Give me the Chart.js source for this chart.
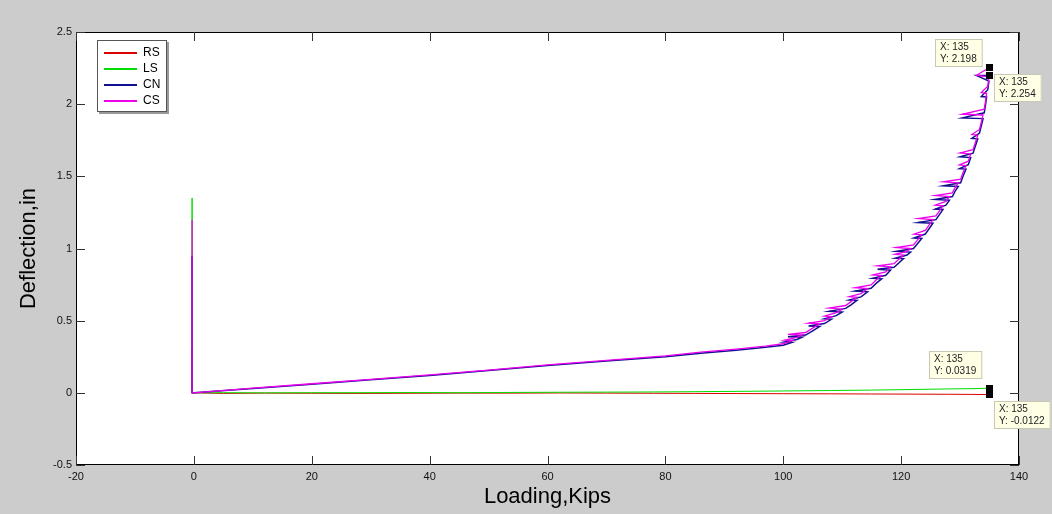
<!DOCTYPE html>
<html lang="en">
<head>
    <meta charset="UTF-8">
    <title>Deflection vs Loading</title>
    <script src="https://cdn.jsdelivr.net/npm/chart.js"></script>
    <style>
        html, body { margin: 0; padding: 0; background: #cccccc; }
        canvas { display: block; }
    </style>
</head>
<body>
    <canvas id="deflectionChart" width="1052" height="514"></canvas>

    <script>
        // load (kips) for centre gauges CN / CS
        const mainLoad = [-0.3, -0.3, -0.3, 0, 10, 20, 30, 40, 50, 60,
            70, 80, 86, 92, 97, 100, 101.5, 100.2, 102.3, 103.2,
            100.8, 103.8, 105, 106.2, 104.3, 107, 108.2, 107, 109, 110,
            107.8, 110.6, 111.5, 112.5, 111.2, 113.2, 114.3, 112.2, 114.9, 115.8,
            116.7, 115.2, 117.4, 118.2, 116, 118.8, 119.6, 120.4, 119, 121,
            121.6, 119.2, 122.1, 122.8, 123.5, 122.2, 124.1, 124.8, 125.4, 122.9,
            125.9, 126.5, 127.1, 125.8, 127.6, 128.2, 125.8, 128.7, 129.2, 129.7,
            127.2, 130.1, 130.5, 131, 129.9, 131.4, 131.8, 130, 132.2, 132.6,
            133, 132, 133.3, 133.6, 133.9, 130.4, 134.1, 134.3, 134.5, 133.6,
            134.7, 134.9, 132.8, 135];
        const cnDefl = [0, 0.95, 0, 0, 0.03, 0.06, 0.09, 0.12, 0.155, 0.19,
            0.22, 0.25, 0.275, 0.295, 0.315, 0.33, 0.35, 0.352, 0.37, 0.385,
            0.388, 0.4, 0.43, 0.46, 0.463, 0.48, 0.51, 0.513, 0.535, 0.56,
            0.565, 0.585, 0.61, 0.64, 0.643, 0.665, 0.7, 0.705, 0.725, 0.76,
            0.79, 0.793, 0.815, 0.85, 0.856, 0.87, 0.9, 0.93, 0.933, 0.955,
            0.975, 0.98, 1.0, 1.035, 1.07, 1.073, 1.1, 1.14, 1.175, 1.18,
            1.2, 1.235, 1.27, 1.273, 1.3, 1.335, 1.34, 1.36, 1.4, 1.43,
            1.435, 1.455, 1.5, 1.55, 1.553, 1.58, 1.63, 1.635, 1.66, 1.71,
            1.76, 1.763, 1.8, 1.85, 1.9, 1.905, 1.94, 1.99, 2.05, 2.053,
            2.1, 2.16, 2.198, 2.198];
        const csDefl = [0, 1.2, 0, 0, 0.032, 0.063, 0.093, 0.124, 0.158, 0.194,
            0.225, 0.256, 0.282, 0.303, 0.323, 0.34, 0.362, 0.365, 0.385, 0.4,
            0.405, 0.418, 0.448, 0.478, 0.482, 0.5, 0.528, 0.532, 0.555, 0.58,
            0.587, 0.605, 0.632, 0.662, 0.666, 0.688, 0.722, 0.728, 0.748, 0.783,
            0.812, 0.817, 0.838, 0.873, 0.88, 0.895, 0.925, 0.955, 0.96, 0.98,
            1.0, 1.007, 1.025, 1.06, 1.095, 1.1, 1.125, 1.165, 1.2, 1.207,
            1.226, 1.26, 1.296, 1.3, 1.326, 1.36, 1.367, 1.386, 1.425, 1.455,
            1.462, 1.48, 1.525, 1.575, 1.58, 1.605, 1.655, 1.662, 1.685, 1.735,
            1.785, 1.79, 1.825, 1.875, 1.925, 1.93, 1.965, 2.015, 2.075, 2.08,
            2.125, 2.19, 2.2, 2.254];

        // load (kips) for side gauges RS / LS
        const sideLoad = [-0.3, -0.3, -0.3, 0, 5, 12, 20, 28, 36, 45, 55, 62, 70, 78, 85, 92, 100, 108, 115, 122, 128, 132, 135];
        const lsDefl = [0, 1.35, 0, 0, 0.001, 0, 0.001, 0.001, 0.002, 0.001, 0.003, 0.004, 0.005, 0.006, 0.008, 0.01, 0.013,
            0.016, 0.019, 0.023, 0.027, 0.029, 0.0319];
        const rsDefl = [0, 0.3, 0, 0, -0.004, -0.002, -0.003, -0.004, -0.003, -0.002, -0.002, -0.001, -0.002, -0.003, -0.004,
            -0.005, -0.006, -0.007, -0.008, -0.009, -0.01, -0.011, -0.0122];

        const seriesNames = ['RS', 'LS', 'CN', 'CS'];
        const seriesColors = ['#dd0000', '#00dd00', '#101090', '#ee00ee'];

        const xTicks = [-20, 0, 20, 40, 60, 80, 100, 120, 140];
        const yTicks = [-0.5, 0, 0.5, 1, 1.5, 2, 2.5];

        // data tips
        const tipX = [135, 135, 135, 135];
        const tipY = [2.198, 2.254, 0.0319, -0.0122];
        const tipPlace = ['nw', 'se', 'nw', 'se'];

        const pts = (xs, ys) => xs.map((v, i) => ({ x: v, y: ys[i] }));

        Chart.defaults.font.family = '"Liberation Sans", Arial, sans-serif';

        const matlabFrame = {
            id: 'matlabFrame',
            beforeDraw(chart) {
                const { ctx, chartArea: a } = chart;
                ctx.save();
                ctx.fillStyle = '#cccccc';
                ctx.fillRect(0, 0, chart.width, chart.height);
                ctx.fillStyle = '#ffffff';
                ctx.fillRect(a.left, a.top, a.right - a.left, a.bottom - a.top);
                ctx.restore();
            },
            afterDatasetsDraw(chart) {
                const { ctx, chartArea: a, scales: { x, y } } = chart;
                ctx.save();

                // box + inward ticks on all sides
                ctx.strokeStyle = '#000';
                ctx.lineWidth = 1;
                ctx.strokeRect(a.left + 0.5, a.top + 0.5, a.right - a.left - 1, a.bottom - a.top - 1);
                ctx.strokeStyle = '#333';
                ctx.beginPath();
                xTicks.forEach(v => {
                    const px = Math.round(x.getPixelForValue(v)) + 0.5;
                    ctx.moveTo(px, a.bottom); ctx.lineTo(px, a.bottom - 9);
                    ctx.moveTo(px, a.top); ctx.lineTo(px, a.top + 9);
                });
                yTicks.forEach(v => {
                    const py = Math.round(y.getPixelForValue(v)) + 0.5;
                    ctx.moveTo(a.left, py); ctx.lineTo(a.left + 9, py);
                    ctx.moveTo(a.right, py); ctx.lineTo(a.right - 9, py);
                });
                ctx.stroke();

                // legend box
                const lx = a.left + 21, ly = a.top + 8, lw = 70, lh = 72;
                ctx.fillStyle = '#999';
                ctx.fillRect(lx + 2, ly + 2, lw, lh);
                ctx.fillStyle = '#fff';
                ctx.fillRect(lx, ly, lw, lh);
                ctx.strokeStyle = '#555';
                ctx.strokeRect(lx + 0.5, ly + 0.5, lw - 1, lh - 1);
                ctx.font = '12px "Liberation Sans", Arial, sans-serif';
                ctx.textBaseline = 'middle';
                ctx.textAlign = 'left';
                seriesNames.forEach((name, i) => {
                    const yy = Math.round(ly + 12.5 + i * 16.3);
                    ctx.fillStyle = seriesColors[i];
                    ctx.fillRect(lx + 7, yy - 1, 33, 2);
                    ctx.fillStyle = '#000';
                    ctx.fillText(name, lx + 46, yy);
                });

                // data tips
                ctx.font = '10px "Liberation Sans", Arial, sans-serif';
                tipX.forEach((tx, i) => {
                    const px = x.getPixelForValue(tx), py = y.getPixelForValue(tipY[i]);
                    const lines = ['X: ' + tx, 'Y: ' + tipY[i]];
                    const w = Math.max(...lines.map(s => ctx.measureText(s).width)) + 11;
                    const h = 28;
                    let bx, by;
                    if (tipPlace[i] === 'nw') { bx = px - 7 - w; by = py - 9 - h; }
                    else { bx = px + 4; by = py + 6; }
                    bx = Math.round(bx); by = Math.round(by);
                    ctx.fillStyle = '#ffffe6';
                    ctx.fillRect(bx, by, w, h);
                    ctx.strokeStyle = '#c8c8b4';
                    ctx.strokeRect(bx + 0.5, by + 0.5, w - 1, h - 1);
                    ctx.fillStyle = '#222';
                    ctx.fillText(lines[0], bx + 5, by + 8);
                    ctx.fillText(lines[1], bx + 5, by + 20);
                });
                tipX.forEach((tx, i) => {
                    const px = x.getPixelForValue(tx), py = y.getPixelForValue(tipY[i]);
                    ctx.fillStyle = '#000';
                    ctx.fillRect(Math.round(px - 3.5), Math.round(py - 3.5), 7, 7);
                });
                ctx.restore();
            }
        };

        const line = (i, xs, ys, order, width) => ({
            label: seriesNames[i], data: pts(xs, ys), borderColor: seriesColors[i], backgroundColor: seriesColors[i],
            showLine: true, pointRadius: 0, borderWidth: width, tension: 0, order
        });

        new Chart(document.getElementById('deflectionChart'), {
            type: 'scatter',
            data: {
                datasets: [
                    line(0, sideLoad, rsDefl, 3, 1),
                    line(1, sideLoad, lsDefl, 2, 1),
                    line(2, mainLoad, cnDefl, 1, 1.5),
                    line(3, mainLoad, csDefl, 0, 1.3)
                ]
            },
            options: {
                responsive: false,
                animation: false,
                events: [],
                layout: { padding: { top: 32, right: 33, left: 0, bottom: 0 } },
                plugins: { legend: { display: false }, tooltip: { enabled: false } },
                scales: {
                    x: {
                        type: 'linear', min: -20, max: 140,
                        afterBuildTicks: s => { s.ticks = xTicks.map(v => ({ value: v })); },
                        ticks: { color: '#111', font: { size: 11 }, padding: 5, maxRotation: 0, autoSkip: false, callback: v => String(v) },
                        grid: { display: false, drawTicks: false },
                        border: { display: false },
                        title: { display: true, text: 'Loading,Kips', color: '#000', font: { size: 22 }, padding: { top: 0, bottom: 4 } },
                        afterFit: s => { s.height = 49; }
                    },
                    y: {
                        type: 'linear', min: -0.5, max: 2.5,
                        afterBuildTicks: s => { s.ticks = yTicks.map(v => ({ value: v })); },
                        ticks: { color: '#111', font: { size: 11 }, padding: 4, autoSkip: false, callback: v => String(v) },
                        grid: { display: false, drawTicks: false },
                        border: { display: false },
                        title: { display: true, text: 'Deflection,in', color: '#000', font: { size: 22 }, padding: { top: 16, bottom: 0 } },
                        afterFit: s => { s.width = 76; }
                    }
                }
            },
            plugins: [matlabFrame]
        });
    </script>
</body>
</html>
